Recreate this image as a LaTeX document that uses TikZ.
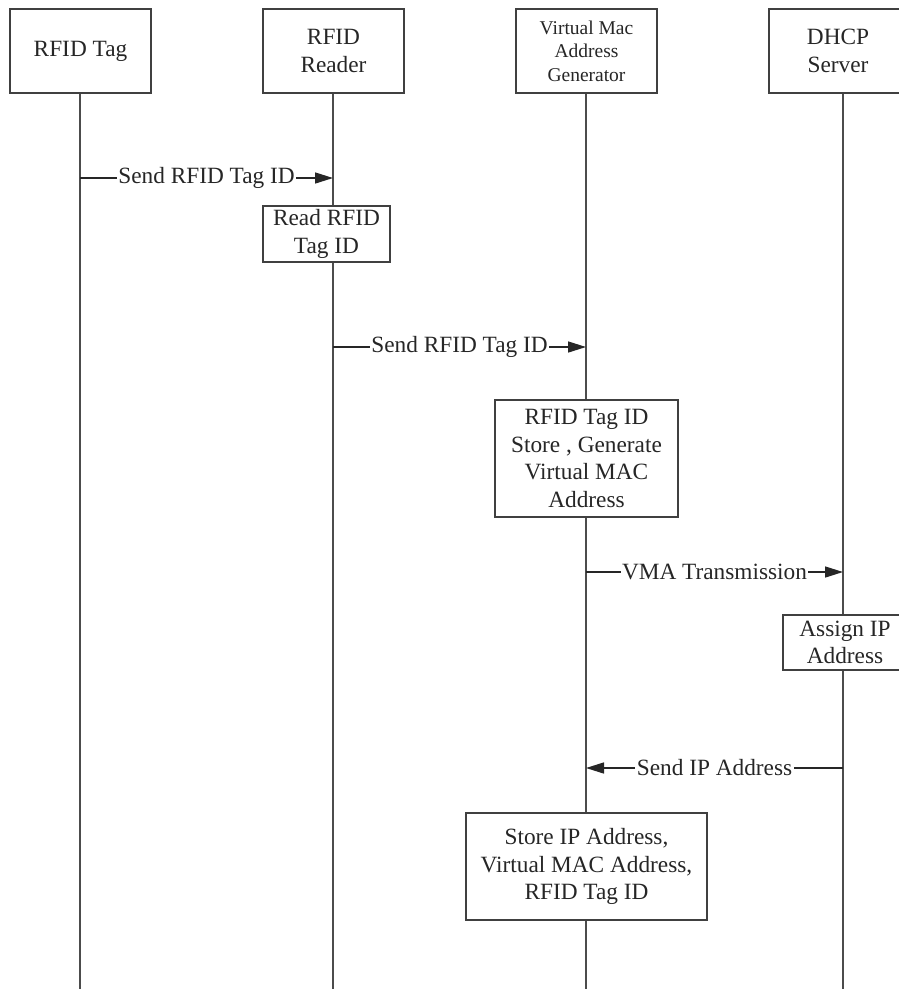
\documentclass[tikz,border=0pt]{standalone}
\usepackage{fontspec}
\setmainfont{Liberation Serif}
\usetikzlibrary{arrows.meta}
\tikzset{
  box/.style={draw=black!75, line width=1.8pt, fill=white, inner sep=0pt, align=center,
    text=black!85, font=\fontsize{23.3}{27.5}\selectfont},
  smallbox/.style={box, font=\fontsize{19.5}{23.5}\selectfont},
  life/.style={draw=black!70, line width=1.8pt},
  msg/.style={draw=black!85, line width=1.5pt, -{Triangle[length=18pt,width=11pt]}},
  msglabel/.style={fill=white, inner sep=1.5pt, text=black!85, font=\fontsize{23.3}{27.5}\selectfont}
}
\begin{document}
\begin{tikzpicture}[x=1pt,y=-1pt]
\useasboundingbox (0,0) rectangle (899,989);
\clip (0,0) rectangle (899,989);
\fill[white] (0,0) rectangle (899,989);
% lifeline ends
\coordinate (tagend) at (80,990);
\coordinate (readerend) at (333,990);
\coordinate (vmgend) at (586,990);
\coordinate (dhcpend) at (843,990);
% heads
\node[box, minimum width=141pt, minimum height=84pt] (tag) at (80.5,51) {RFID Tag};
\node[box, minimum width=141pt, minimum height=84pt] (reader) at (333.5,51) {RFID\\Reader};
\node[smallbox, minimum width=141pt, minimum height=84pt] (vmg) at (586.5,51) {Virtual Mac\\Address\\Generator};
\node[box, minimum width=138pt, minimum height=84pt] (dhcp) at (838,51) {DHCP\\Server};
% lifelines
\draw[life] (tagend |- tag.south) -- (tagend);
\draw[life] (readerend |- reader.south) -- (readerend);
\draw[life] (vmgend |- vmg.south) -- (vmgend);
\draw[life] (dhcpend |- dhcp.south) -- (dhcpend);
% activation boxes
\node[box, minimum width=127pt, minimum height=56pt] (read) at (326.5,234) {Read RFID\\Tag ID};
\node[box, minimum width=183pt, minimum height=117pt] (gen) at (586.5,458.5) {RFID Tag ID\\Store , Generate\\Virtual MAC\\Address};
\node[box, minimum width=124pt, minimum height=55pt] (assign) at (845,642.5) {Assign IP\\Address};
\node[box, minimum width=241pt, minimum height=107pt] (storeip) at (586.5,866.5) {Store IP Address,\\Virtual MAC Address,\\RFID Tag ID};
% messages
\coordinate (m1a) at (80,178);  \coordinate (m1b) at (333,178);
\coordinate (m2a) at (333,347); \coordinate (m2b) at (586,347);
\coordinate (m3a) at (586,572); \coordinate (m3b) at (843,572);
\coordinate (m4a) at (843,768); \coordinate (m4b) at (586,768);
\draw[msg] (m1a) -- node[msglabel] (l1) {Send RFID Tag ID} (m1b);
\draw[msg] (m2a) -- node[msglabel] (l2) {Send RFID Tag ID} (m2b);
\draw[msg] (m3a) -- node[msglabel] (l3) {VMA Transmission} (m3b);
\draw[msg] (m4a) -- node[msglabel] (l4) {Send IP Address} (m4b);
\end{tikzpicture}
\end{document}
